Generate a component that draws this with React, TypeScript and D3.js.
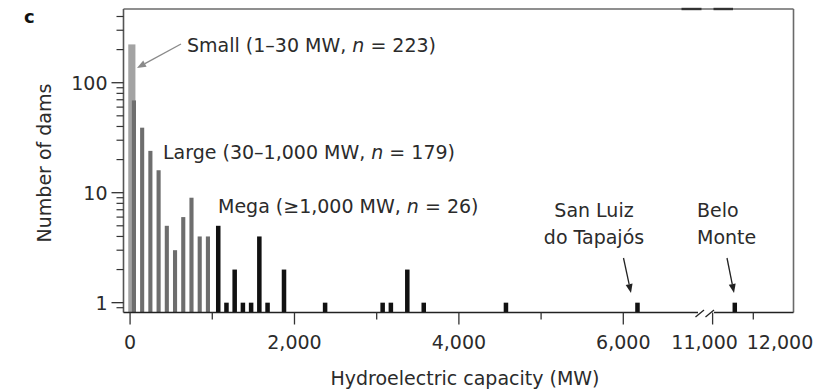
import React from 'react';
import * as d3 from 'd3';

// Histogram of dam capacities, 100 MW bins (bin start in MW)
const smallBins = [0];
const smallCounts = [223];
const largeBins = [0, 100, 200, 300, 400, 500, 600, 700, 800, 900];
const largeCounts = [69, 39, 24, 16, 5, 3, 6, 9, 4, 4];
const megaBins = [1000, 1100, 1200, 1300, 1400, 1500, 1600, 1800, 2300, 3000, 3100, 3300, 3500, 4500, 6100, 11200];
const megaCounts = [5, 1, 2, 1, 1, 4, 1, 2, 1, 1, 1, 2, 1, 1, 1, 1];

const xMajorTicks = [0, 2000, 4000, 6000, 11000];
const xMinorTicks = [1000, 3000, 5000, 11500];
const xTickLabels = [0, 2000, 4000, 6000, 11000, 12000];
const yMajorTicks = [1, 10, 100];
const yMinorTicks = [0.9, 2, 3, 4, 5, 6, 7, 8, 9, 20, 30, 40, 50, 60, 70, 80, 90, 200, 300, 400];

const W = 827;
const H = 391;
const left = 123.5;
const right = 793.5;
const top = 9;
const bottom = 312.5;
const FONT = '"DejaVu Sans", Verdana, sans-serif';
const FS = 19;
const TXT = '#2b2b2b';

const x = d3.scaleLinear().domain([-80, 7000, 10925, 12000]).range([left, 705.5, 706.5, 794]);
const y = d3.scaleLog().domain([0.814, 468]).range([bottom, top]);
const fmt = d3.format(',');
// small nudges of the last two tick labels, as in the original
const labelShift: Record<number, number> = { 11000: -8, 12000: -14 };

const Arrow = ({ x1, y1, x2, y2, color }: { x1: number; y1: number; x2: number; y2: number; color: string }) => {
  const a = Math.atan2(y2 - y1, x2 - x1);
  const len = 9, half = 3.5;
  const bx = x2 - len * Math.cos(a), by = y2 - len * Math.sin(a);
  const p = [
    [x2, y2],
    [bx + half * Math.sin(a), by - half * Math.cos(a)],
    [bx - half * Math.sin(a), by + half * Math.cos(a)],
  ];
  return (
    <g>
      <line x1={x1} y1={y1} x2={bx} y2={by} stroke={color} strokeWidth={1.3} />
      <polygon points={p.map(d => d.join(',')).join(' ')} fill={color} />
    </g>
  );
};

const bar = (bin: number, count: number, off: number, w: number, fill: string, key: string) => {
  const x0 = x(bin + off);
  const x1 = x(bin + off + w);
  const yy = y(count);
  return <rect key={key} x={x0} y={yy} width={x1 - x0} height={bottom - yy} fill={fill} />;
};

export default function App() {
  return (
    <svg width={W} height={H} style={{ position: 'absolute', left: 0, top: 0 }} fontFamily={FONT}>
      <rect width={W} height={H} fill="#fff" />

      {/* bars */}
      {smallBins.map((b, i) => bar(b, smallCounts[i], -22, 87, '#a3a3a3', 's' + i))}
      {largeBins.map((b, i) => bar(b, largeCounts[i], 22, 50, '#6e6e6e', 'l' + i))}
      {megaBins.map((b, i) => bar(b, megaCounts[i], 45, 55, '#111', 'm' + i))}

      {/* frame */}
      <line x1={left} y1={top} x2={right} y2={top} stroke="#6a6a6a" strokeWidth={1.6} />
      <line x1={right} y1={top} x2={right} y2={bottom} stroke="#6a6a6a" strokeWidth={1.6} />
      <line x1={left} y1={top} x2={left} y2={bottom} stroke="#555" strokeWidth={1.6} />
      <line x1={681.5} y1={top} x2={701.5} y2={top} stroke="#333" strokeWidth={2.4} />
      <line x1={713.5} y1={top} x2={733} y2={top} stroke="#333" strokeWidth={2.4} />

      {/* x axis with break */}
      <line x1={left} y1={bottom} x2={698} y2={bottom} stroke="#222" strokeWidth={1.6} />
      <line x1={714} y1={bottom} x2={right} y2={bottom} stroke="#222" strokeWidth={1.6} />
      <line x1={695.5} y1={317} x2={704} y2={310} stroke="#222" strokeWidth={1.3} />
      <line x1={705.5} y1={317} x2={714} y2={310} stroke="#222" strokeWidth={1.3} />

      {xMajorTicks.map(t => (
        <line key={'xM' + t} x1={x(t)} x2={x(t)} y1={bottom} y2={bottom + 12} stroke="#333" strokeWidth={1.3} />
      ))}
      {xMinorTicks.map(t => (
        <line key={'xm' + t} x1={x(t)} x2={x(t)} y1={bottom} y2={bottom + 7} stroke="#333" strokeWidth={1.3} />
      ))}
      {xTickLabels.map(t => (
        <text key={'xl' + t} x={x(t)} dx={labelShift[t] || 0} y={349} textAnchor="middle" fontSize={FS} fill={TXT}>
          {fmt(t)}
        </text>
      ))}

      {/* y axis */}
      {yMajorTicks.map(t => (
        <g key={'yM' + t}>
          <line x1={left - 12} x2={left} y1={y(t)} y2={y(t)} stroke="#333" strokeWidth={1.3} />
          <text x={left - 16} y={y(t)} dy="0.36em" textAnchor="end" fontSize={FS} fill={TXT}>
            {t}
          </text>
        </g>
      ))}
      {yMinorTicks.map(t => (
        <line key={'ym' + t} x1={left - 7} x2={left} y1={y(t)} y2={y(t)} stroke="#333" strokeWidth={1.2} />
      ))}

      {/* axis titles */}
      <text x={465} y={385} textAnchor="middle" fontSize={FS} fill={TXT}>
        Hydroelectric capacity (MW)
      </text>
      <text transform="translate(51,163) rotate(-90)" textAnchor="middle" fontSize={FS} fill={TXT}>
        Number of dams
      </text>
      <text x={24} y={23} fontSize={18} fontWeight="bold" fill="#111">
        c
      </text>

      {/* annotations */}
      <text x={187} y={52} fontSize={FS} fill={TXT}>
        Small (1–30 MW, <tspan fontStyle="italic">n</tspan> = 223)
      </text>
      <Arrow x1={181} y1={44} x2={137} y2={68} color="#8a8a8a" />
      <text x={163} y={159} fontSize={FS} fill={TXT}>
        Large (30–1,000 MW, <tspan fontStyle="italic">n</tspan> = 179)
      </text>
      <text x={218} y={213} fontSize={FS} fill={TXT}>
        Mega (≥1,000 MW, <tspan fontStyle="italic">n</tspan> = 26)
      </text>
      <text x={594} y={217} textAnchor="middle" fontSize={FS} fill={TXT}>
        <tspan x={594}>San Luiz</tspan>
        <tspan x={594} dy={27}>do Tapajós</tspan>
      </text>
      <Arrow x1={623.5} y1={258} x2={631} y2={293} color="#222" />
      <text x={697} y={217} fontSize={FS} fill={TXT}>
        <tspan x={697}>Belo</tspan>
        <tspan x={697} dy={27}>Monte</tspan>
      </text>
      <Arrow x1={727} y1={258} x2={734} y2={293} color="#222" />
    </svg>
  );
}
